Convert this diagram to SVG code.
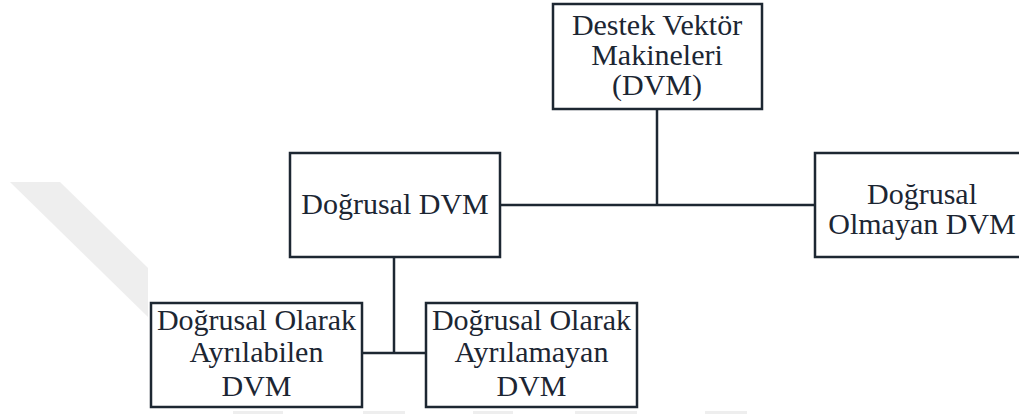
<svg xmlns="http://www.w3.org/2000/svg" width="1019" height="414" viewBox="0 0 1019 414">
  <style>
    .box { fill: #ffffff; stroke: #1d2732; stroke-width: 2.5; }
    .wire { fill: none; stroke: #1d2732; stroke-width: 2.5; }
    .mark { fill: #eeeeee; }
  </style>
  <rect width="1019" height="414" fill="#ffffff"/>

  <!-- faint background mark -->
  <g id="backdrop">
    <polygon class="mark" points="10,182 60,182 148,268 148,317"/>
    <rect class="mark" x="233" y="411" width="50" height="3"/>
    <rect class="mark" x="363" y="411" width="42" height="3"/>
    <rect class="mark" x="473" y="411" width="40" height="3"/>
    <rect class="mark" x="575" y="411" width="62" height="3"/>
    <rect class="mark" x="705" y="411" width="42" height="3"/>
  </g>

  <!-- connectors -->
  <g id="connectors">
    <line class="wire" x1="657" y1="109" x2="657" y2="205"/>
    <line class="wire" x1="500" y1="205" x2="815" y2="205"/>
    <line class="wire" x1="394" y1="257" x2="394" y2="353"/>
    <line class="wire" x1="362" y1="353" x2="426" y2="353"/>
  </g>

  <!-- labels share one serif face -->
  <g font-family="'Liberation Serif', 'Times New Roman', Times, 'DejaVu Serif', serif" font-size="30" fill="#1c2633" text-anchor="middle">
    <g id="node-dvm">
      <rect class="box" x="553" y="4" width="209" height="105"/>
      <text x="657" y="35">Destek Vektör</text>
      <text x="657" y="65">Makineleri</text>
      <text x="657" y="95">(DVM)</text>
    </g>

    <g id="node-linear">
      <rect class="box" x="290" y="153" width="210" height="104"/>
      <text x="395" y="214">Doğrusal DVM</text>
    </g>

    <g id="node-nonlinear">
      <rect class="box" x="815" y="153" width="220" height="104"/>
      <text x="922" y="204">Doğrusal</text>
      <text x="922" y="234">Olmayan DVM</text>
    </g>

    <g id="node-separable">
      <rect class="box" x="151" y="303" width="211" height="104"/>
      <text x="256.5" y="330">Doğrusal Olarak</text>
      <text x="256.5" y="362">Ayrılabilen</text>
      <text x="256.5" y="396">DVM</text>
    </g>

    <g id="node-nonseparable">
      <rect class="box" x="426" y="303" width="211" height="104"/>
      <text x="531.5" y="330">Doğrusal Olarak</text>
      <text x="531.5" y="362">Ayrılamayan</text>
      <text x="531.5" y="396">DVM</text>
    </g>
  </g>
</svg>
